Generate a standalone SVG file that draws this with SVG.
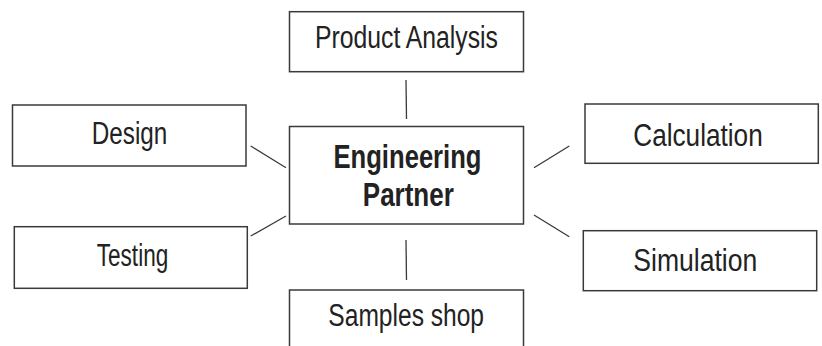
<svg xmlns="http://www.w3.org/2000/svg" width="822" height="346" viewBox="0 0 822 346">
<style>
.box{fill:#fff;stroke:#3a3a3a;stroke-width:1.5}
.lbl{font-family:"Liberation Sans",Arial,sans-serif;font-size:31px;fill:#222;text-anchor:middle}
.bold{font-weight:bold;font-size:34px}
.conn line{stroke:#3a3a3a;stroke-width:1.3}
</style>
<rect width="822" height="346" fill="#fff"/>
<g class="conn" id="connectors">
<line x1="406" y1="80" x2="406.5" y2="119"/>
<line x1="250.7" y1="146" x2="286" y2="167.7"/>
<line x1="250.7" y1="236" x2="286" y2="216"/>
<line x1="534" y1="167.7" x2="569.3" y2="146"/>
<line x1="534" y1="215" x2="569.3" y2="236.7"/>
<line x1="406" y1="240" x2="406.5" y2="280"/>
</g>
<g id="center">
<rect class="box" x="289.5" y="126.5" width="234" height="97.5"/>
<text class="lbl bold" x="407.5" y="168.3" textLength="148" lengthAdjust="spacingAndGlyphs">Engineering</text>
<text class="lbl bold" x="408.3" y="206" textLength="91" lengthAdjust="spacingAndGlyphs">Partner</text>
</g>
<g id="product-analysis">
<rect class="box" x="289.5" y="11.7" width="234" height="60"/>
<text class="lbl" x="406.5" y="48" textLength="183" lengthAdjust="spacingAndGlyphs">Product Analysis</text>
</g>
<g id="design">
<rect class="box" x="12.5" y="105" width="233.5" height="61"/>
<text class="lbl" x="129.5" y="144.3" textLength="75.6" lengthAdjust="spacingAndGlyphs">Design</text>
</g>
<g id="testing">
<rect class="box" x="14.3" y="226.7" width="233" height="61.6"/>
<text class="lbl" x="132.5" y="266" textLength="71.6" lengthAdjust="spacingAndGlyphs">Testing</text>
</g>
<g id="calculation">
<rect class="box" x="585" y="104" width="233.3" height="59.3"/>
<text class="lbl" x="698" y="146" textLength="129.4" lengthAdjust="spacingAndGlyphs">Calculation</text>
</g>
<g id="simulation">
<rect class="box" x="583.3" y="230.7" width="233.4" height="60"/>
<text class="lbl" x="695.3" y="270.7" textLength="124" lengthAdjust="spacingAndGlyphs">Simulation</text>
</g>
<g id="samples-shop">
<rect class="box" x="289.5" y="290" width="234" height="70"/>
<text class="lbl" x="406.2" y="326" textLength="155.7" lengthAdjust="spacingAndGlyphs">Samples shop</text>
</g>
</svg>
